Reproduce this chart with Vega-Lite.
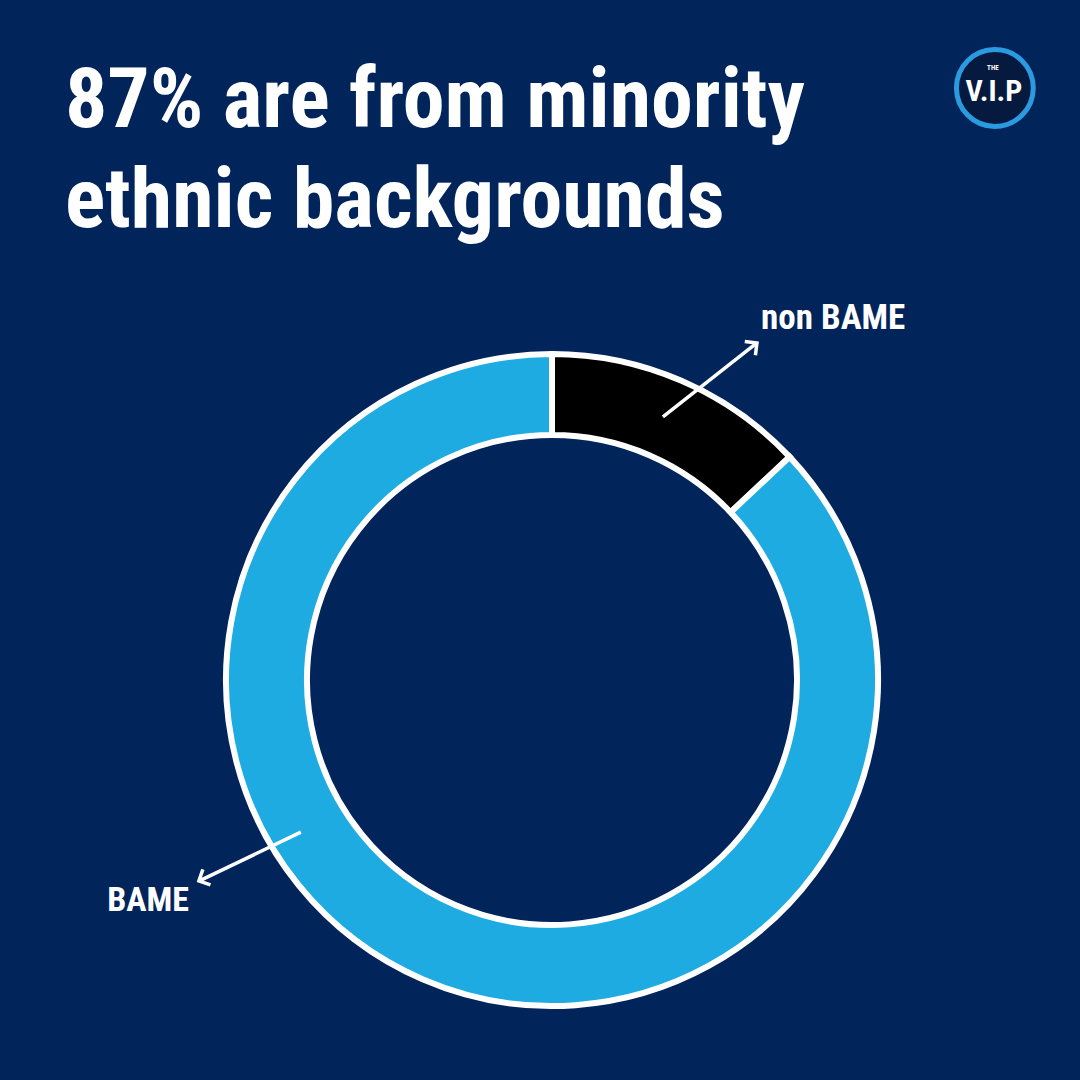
{
  "$schema": "https://vega.github.io/schema/vega-lite/v6.json",
  "width": 1080,
  "height": 1080,
  "autosize": "none",
  "padding": 0,
  "background": "#01245A",
  "config": {"view": {"stroke": null}},
  "datasets": {
    "ethnicity": [
      {"group": "non BAME", "share": 13},
      {"group": "BAME", "share": 87}
    ]
  },
  "data": {"name": "ethnicity"},
  "layer": [
    {
      "mark": {"type": "arc", "outerRadius": 326, "innerRadius": 245, "stroke": "#FFFFFF", "strokeWidth": 6},
      "encoding": {
        "x": {"datum": 0, "type": "quantitative", "axis": null, "scale": {"domain": [-1.6727, 1.6], "nice": false, "zero": false}},
        "y": {"datum": 0, "type": "quantitative", "axis": null, "scale": {"domain": [-1.2121, 2.0606], "nice": false, "zero": false}},
        "theta": {"field": "share", "type": "quantitative", "stack": true},
        "order": {"field": "share", "sort": "ascending"},
        "color": {"field": "group", "type": "nominal", "legend": null,
          "scale": {"domain": ["non BAME", "BAME"], "range": ["#000000", "#1EABE2"]}}
      }
    },
    {
      "transform": [{"filter": "datum.group === 'non BAME'"}],
      "mark": {"type": "rule", "color": "#FFFFFF", "strokeWidth": 3.5},
      "encoding": {
        "x": {"datum": 0.336, "type": "quantitative"},
        "y": {"datum": 0.797, "type": "quantitative"},
        "x2": {"datum": 0.618},
        "y2": {"datum": 1.019}
      }
    },
    {
      "transform": [{"filter": "datum.group === 'non BAME'"}],
      "mark": {"type": "point", "shape": "M -1 -1 L 0 0 L -1 1", "filled": false, "stroke": "#FFFFFF", "strokeWidth": 3.5, "size": 300, "angle": -38, "opacity": 1},
      "encoding": {
        "x": {"datum": 0.621, "type": "quantitative"},
        "y": {"datum": 1.021, "type": "quantitative"}
      }
    },
    {
      "transform": [{"filter": "datum.group === 'non BAME'"}],
      "mark": {"type": "text", "font": "Roboto Condensed, Noto Sans ExtraCondensed, DejaVu Sans Condensed, sans-serif", "fontWeight": "bold", "fontSize": 35, "color": "#FFFFFF", "align": "center", "baseline": "alphabetic"},
      "encoding": {
        "x": {"datum": 0.852, "type": "quantitative"},
        "y": {"datum": 1.064, "type": "quantitative"},
        "text": {"field": "group"}
      }
    },
    {
      "transform": [{"filter": "datum.group === 'BAME'"}],
      "mark": {"type": "rule", "color": "#FFFFFF", "strokeWidth": 3.5},
      "encoding": {
        "x": {"datum": -0.761, "type": "quantitative"},
        "y": {"datum": -0.461, "type": "quantitative"},
        "x2": {"datum": -1.067},
        "y2": {"datum": -0.608}
      }
    },
    {
      "transform": [{"filter": "datum.group === 'BAME'"}],
      "mark": {"type": "point", "shape": "M -1 -1 L 0 0 L -1 1", "filled": false, "stroke": "#FFFFFF", "strokeWidth": 3.5, "size": 300, "angle": 154, "opacity": 1},
      "encoding": {
        "x": {"datum": -1.07, "type": "quantitative"},
        "y": {"datum": -0.609, "type": "quantitative"}
      }
    },
    {
      "transform": [{"filter": "datum.group === 'BAME'"}],
      "mark": {"type": "text", "font": "Roboto Condensed, Noto Sans ExtraCondensed, DejaVu Sans Condensed, sans-serif", "fontWeight": "bold", "fontSize": 34, "color": "#FFFFFF", "align": "center", "baseline": "alphabetic"},
      "encoding": {
        "x": {"datum": -1.224, "type": "quantitative"},
        "y": {"datum": -0.7, "type": "quantitative"},
        "text": {"field": "group"}
      }
    },
    {
      "data": {"values": [{"headline": ["87% are from minority", "ethnic backgrounds"]}]},
      "mark": {"type": "text", "font": "Roboto Condensed, Noto Sans ExtraCondensed, DejaVu Sans Condensed, sans-serif", "fontWeight": "bold", "fontSize": 84, "lineHeight": 100, "color": "#FFFFFF", "align": "left", "baseline": "alphabetic"},
      "encoding": {
        "x": {"datum": -1.476, "type": "quantitative"},
        "y": {"datum": 1.676, "type": "quantitative"},
        "text": {"field": "headline"}
      }
    },
    {
      "data": {"values": [{"brand": "V.I.P", "prefix": "THE"}]},
      "layer": [
        {
          "mark": {"type": "point", "shape": "circle", "filled": true, "fill": "#06193F", "stroke": "#2A9BE0", "strokeWidth": 5, "size": 5900, "opacity": 1},
          "encoding": {
            "x": {"datum": 1.342, "type": "quantitative"},
            "y": {"datum": 1.794, "type": "quantitative"}
          }
        },
        {
          "mark": {"type": "text", "font": "Roboto Condensed, Noto Sans ExtraCondensed, DejaVu Sans Condensed, sans-serif", "fontWeight": "bold", "fontSize": 30, "color": "#FFFFFF", "align": "center", "baseline": "alphabetic"},
          "encoding": {
            "x": {"datum": 1.339, "type": "quantitative"},
            "y": {"datum": 1.755, "type": "quantitative"},
            "text": {"field": "brand"}
          }
        },
        {
          "mark": {"type": "text", "font": "Roboto Condensed, Noto Sans ExtraCondensed, DejaVu Sans Condensed, sans-serif", "fontWeight": "bold", "fontSize": 7, "color": "#FFFFFF", "align": "center", "baseline": "alphabetic"},
          "encoding": {
            "x": {"datum": 1.336, "type": "quantitative"},
            "y": {"datum": 1.848, "type": "quantitative"},
            "text": {"field": "prefix"}
          }
        }
      ]
    }
  ]
}
